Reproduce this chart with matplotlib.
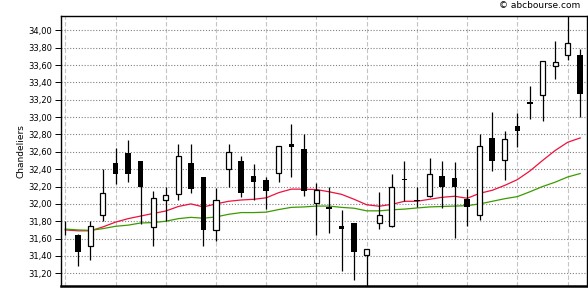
import matplotlib
matplotlib.use('Agg')
import matplotlib.pyplot as plt
import numpy as np
from matplotlib.ticker import FuncFormatter

plt.rcParams['font.family'] = 'DejaVu Sans'
plt.rcParams['font.size'] = 6

# daily candles
opens = [31.72, 31.64, 31.51, 31.87, 32.47, 32.59, 32.50, 31.73, 32.05, 32.11, 32.47,
         32.31, 31.70, 32.40, 32.50, 32.32, 32.27, 32.36, 32.69, 32.63, 32.01, 31.97,
         31.74, 31.78, 31.41, 31.78, 31.74, 32.29, 32.05, 32.09, 32.32, 32.30, 32.06,
         31.87, 32.76, 32.51, 32.90, 33.17, 33.25, 33.59, 33.71, 33.72]
closes = [31.72, 31.45, 31.75, 32.12, 32.34, 32.35, 32.20, 32.07, 32.10, 32.55, 32.17,
          31.70, 32.04, 32.60, 32.12, 32.25, 32.15, 32.67, 32.66, 32.15, 32.16, 31.94,
          31.71, 31.44, 31.48, 31.87, 32.20, 32.27, 32.03, 32.34, 32.20, 32.19, 31.96,
          32.67, 32.49, 32.75, 32.84, 33.15, 33.65, 33.63, 33.85, 33.27]
highs = [31.80, 31.65, 31.80, 32.40, 32.64, 32.74, 32.50, 32.15, 32.20, 32.69, 32.69,
         32.31, 32.18, 32.69, 32.55, 32.46, 32.31, 32.67, 32.92, 32.80, 32.24, 32.20,
         31.93, 31.78, 31.48, 32.14, 32.35, 32.50, 32.20, 32.53, 32.50, 32.48, 32.17,
         32.80, 33.06, 32.84, 33.05, 33.36, 33.65, 33.88, 34.20, 33.79]
lows = [31.64, 31.28, 31.35, 31.80, 32.23, 32.25, 31.77, 31.52, 31.80, 32.05, 32.12,
        31.51, 31.57, 32.20, 32.08, 32.05, 31.94, 32.25, 32.31, 32.09, 31.64, 31.67,
        31.23, 31.12, 31.00, 31.71, 31.73, 32.03, 31.97, 32.08, 31.95, 31.61, 31.75,
        31.82, 32.38, 32.28, 32.65, 32.98, 32.95, 33.44, 33.66, 33.00]

# moving averages
ma_short = [31.70, 31.69, 31.69, 31.735, 31.79, 31.83, 31.86, 31.89, 31.918, 31.97, 32.00,
            31.965, 32.00, 32.03, 32.045, 32.053, 32.07, 32.13, 32.17, 32.17, 32.165, 32.14,
            32.11, 32.053, 31.99, 31.973, 31.995, 32.03, 32.03, 32.053, 32.076, 32.088, 32.065,
            32.122, 32.157, 32.214, 32.28, 32.38, 32.50, 32.615, 32.71, 32.76]
ma_long = [31.71, 31.70, 31.695, 31.715, 31.742, 31.755, 31.78, 31.785, 31.80, 31.83, 31.845,
           31.835, 31.85, 31.88, 31.90, 31.90, 31.905, 31.935, 31.96, 31.965, 31.975, 31.975,
           31.96, 31.95, 31.92, 31.92, 31.932, 31.94, 31.953, 31.965, 31.97, 31.975, 31.98,
           32.00, 32.03, 32.06, 32.084, 32.14, 32.20, 32.25, 32.31, 32.35]

y_ticks = [31.2, 31.4, 31.6, 31.8, 32.0, 32.2, 32.4, 32.6, 32.8, 33.0, 33.2, 33.4, 33.6, 33.8, 34.0]

fig = plt.figure(figsize=(5.88, 3.0), dpi=100)
ax = fig.add_axes([60.5 / 588, 14 / 300, 526.5 / 588, 270 / 300])

x = np.arange(len(opens))
o = np.array(opens)
c = np.array(closes)
up = c > o

ax.vlines(x, lows, highs, color='black', linewidth=0.9, zorder=3)
ax.bar(x[up], (c - o)[up], bottom=o[up], width=0.4, color='white',
       edgecolor='black', linewidth=0.9, zorder=4)
ax.bar(x[~up], (o - c)[~up], bottom=c[~up], width=0.45, color='black',
       linewidth=0, zorder=4)

ax.plot(x, ma_short, color='#f0103c', linewidth=0.9, zorder=2)
ax.plot(x, ma_long, color='#3c9a00', linewidth=0.9, zorder=2)

ax.set_xlim(-0.38, 41.54)
ax.set_ylim(31.054, 34.165)

ax.set_yticks(y_ticks)
ax.yaxis.set_major_formatter(FuncFormatter(lambda v, p: f'{v:.2f}'.replace('.', ',')))
ax.set_xticks(np.arange(0, 42, 4))
ax.set_xticklabels([])
ax.tick_params(axis='x', length=0)
ax.tick_params(axis='y', length=4.5, width=0.7, pad=1.5, labelsize=6, colors='black')

ax.grid(axis='y', linestyle=(0, (1, 1.6)), color='#808080', linewidth=0.8)
ax.grid(axis='x', linestyle=(0, (4, 2)), color='#c4c4c4', linewidth=0.8)
ax.set_axisbelow(True)

for s in ['top', 'left', 'right']:
    ax.spines[s].set_linewidth(1.0)
    ax.spines[s].set_color('black')
ax.spines['bottom'].set_linewidth(1.8)

fig.text(20.5 / 588, 1 - 151 / 300, 'Chandeliers', rotation=90, ha='center', va='center', fontsize=6.5)
fig.text(580 / 588, 1 - 6 / 300, '\u00a9 abcbourse.com', ha='right', va='center', fontsize=6.5)

fig.savefig('out.png', dpi=100)
